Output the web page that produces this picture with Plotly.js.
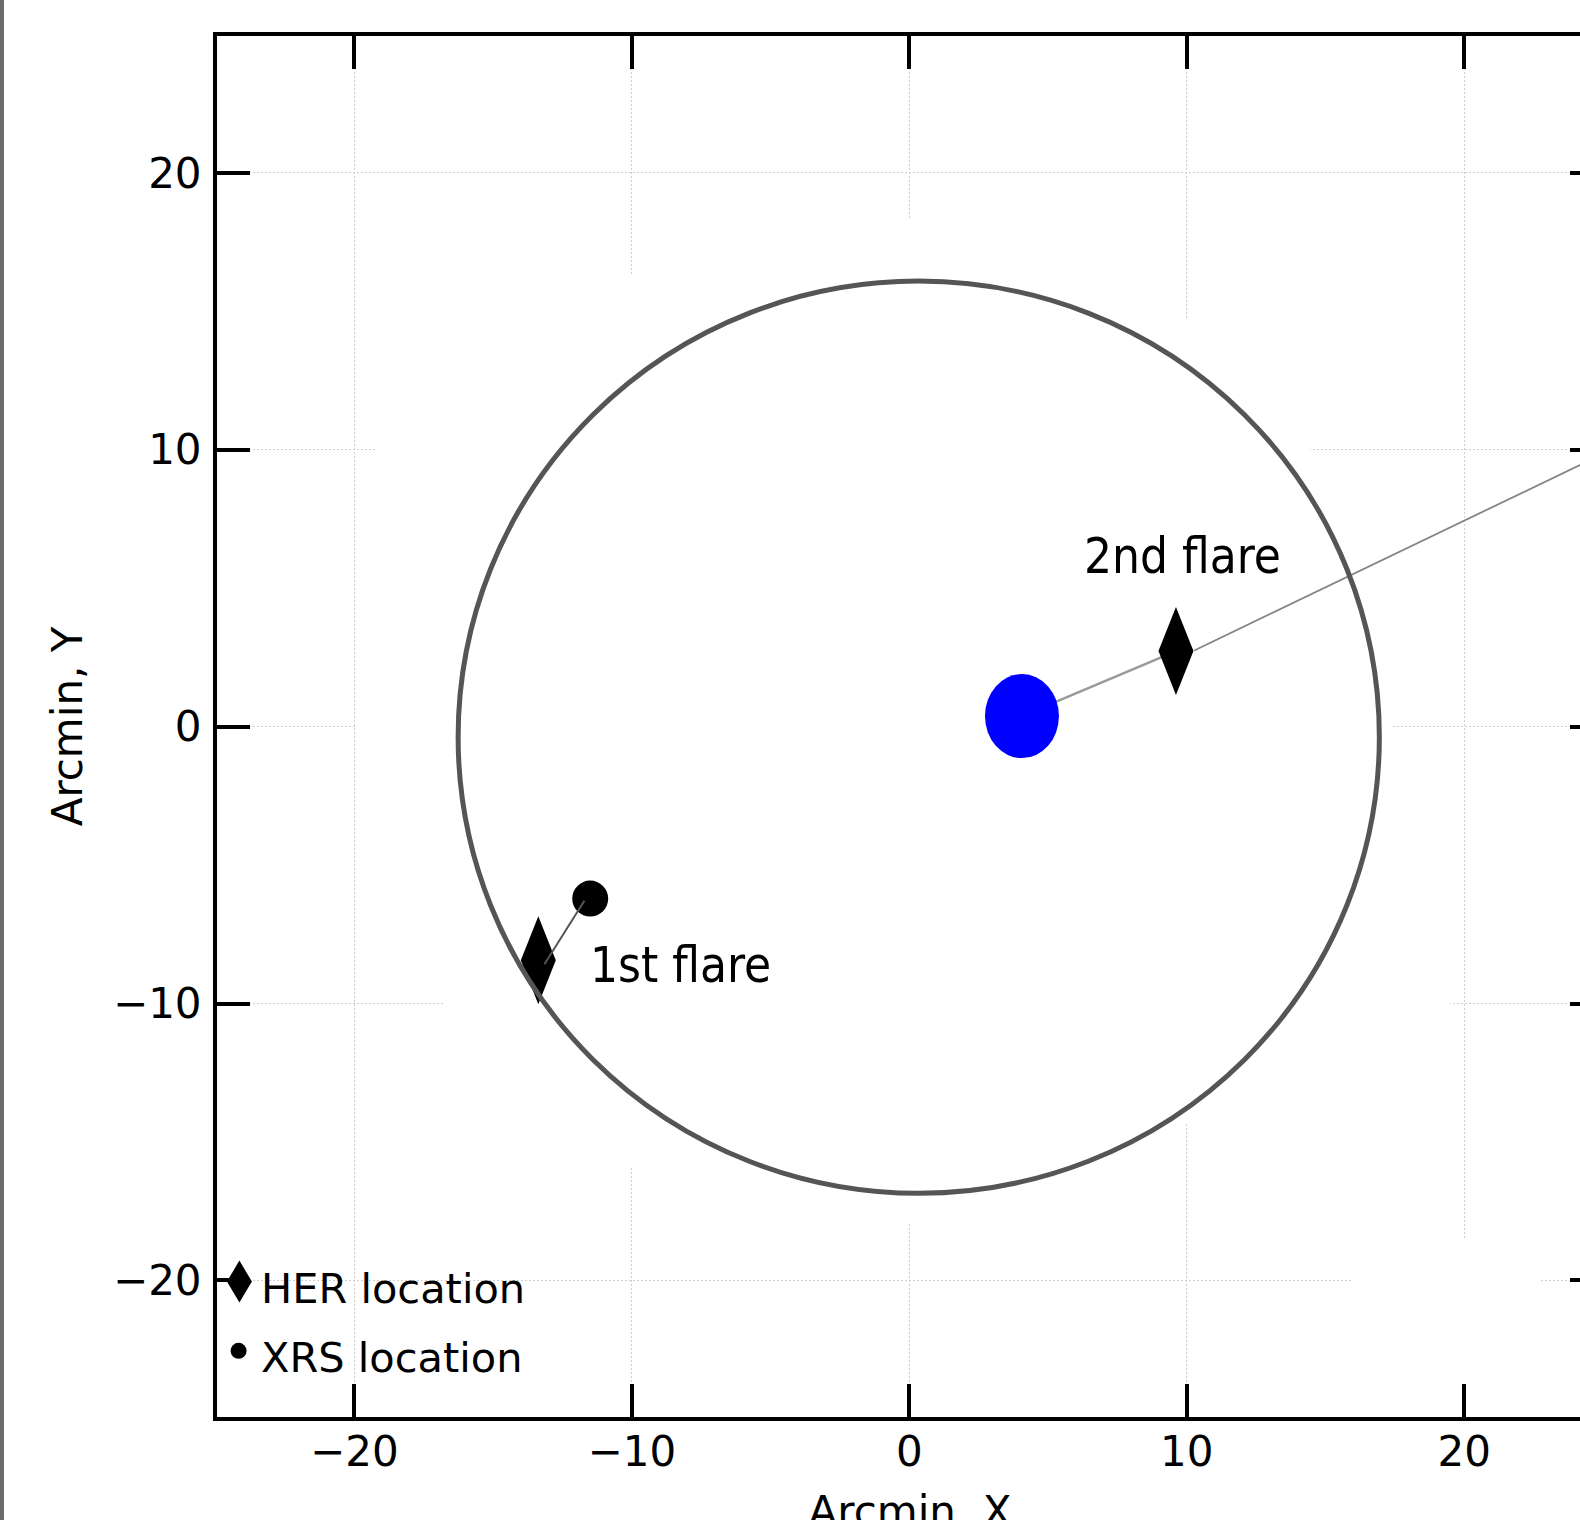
<!DOCTYPE html>
<html><head><meta charset="utf-8">
<script src="https://cdn.plot.ly/plotly-3.0.1.min.js"></script>
<style>html,body{margin:0;padding:0;overflow:hidden;background:#fff}#chart{width:1620px;height:1560px}</style>
</head><body><div id="chart"></div>
<script>
// ---------------- data ----------------
const xTickVals = [-20, -10, 0, 10, 20];
const yTickVals = [-20, -10, 0, 10, 20];
const herNames = ['1st flare', '2nd flare'];
const herX = [-13.37, 9.61];          // HER location (arcmin)
const herY = [-8.44, 2.73];
const xrsX = [-11.50];                 // XRS location (arcmin)
const xrsY = [-6.21];
const centroidX = [4.06];              // blue source
const centroidY = [0.38];
const sunCenterX = [0.34];
const sunCenterY = [-0.38];
const sunRadiusX = [16.6];
const sunRadiusY = [16.47];
const link1X = [-13.15, -11.71];       // HER -> XRS, 1st flare
const link1Y = [-8.58, -6.29];
const link2X = [4.06, 9.61];           // source -> HER, 2nd flare
const link2Y = [0.38, 2.73];
const rayX = [10.27, 26.0];            // ray beyond HER, 2nd flare
const rayY = [2.75, 10.33];
const flareLabelX = [-8.23, 9.83];
const flareLabelY = [-8.63, 6.14];
const legendNames = ['HER location', 'XRS location'];

// ---------------- geometry / style ----------------
const W = 1620, H = 1560, ML = 217, MR = 17, MT = 36, MB = 143;
const PW = W - ML - MR, PH = H - MT - MB;
const xRange = [-24.95, 25], yRange = [-24.93, 24.94];
const pxPerX = PW / (xRange[1] - xRange[0]);
const pxPerY = PH / (yRange[1] - yRange[0]);
const px2paperX = p => (p - ML) / PW;
const px2paperY = p => (H - MB - p) / PH;
const FONT = 'DejaVu Sans';
const LABEL_FONT = 'DejaVu Sans Condensed, ' + FONT;

// diamond polygons for HER points (35 x 88 px)
const hw = 17.5 / pxPerX, hh = 44 / pxPerY;
const dX = [], dY = [];
herX.forEach((x, i) => {
  const y = herY[i];
  dX.push(x - hw, x, x + hw, x, x - hw, null);
  dY.push(y, y + hh, y, y - hh, y, null);
});

const traces = [
  {x: link2X, y: link2Y, mode: 'lines', line: {color: '#999999', width: 2.5}, hoverinfo: 'skip', showlegend: false},
  {x: rayX, y: rayY, mode: 'lines', line: {color: '#858585', width: 1.8}, hoverinfo: 'skip', showlegend: false},
  {x: dX, y: dY, mode: 'lines', fill: 'toself', fillcolor: '#000', line: {color: '#000', width: 0}, name: legendNames[0], showlegend: false},
  {x: xrsX, y: xrsY, mode: 'markers', marker: {symbol: 'circle', size: 36, color: '#000'}, name: legendNames[1], showlegend: false},
  {x: link1X, y: link1Y, mode: 'lines', line: {color: '#555', width: 2}, hoverinfo: 'skip', showlegend: false}
];

const shapes = [
  // white patches of the pasted image (hide grid)
  {type: 'path', layer: 'between', xref: 'x', yref: 'y', fillcolor: '#fff', line: {width: 0},
   path: 'M-19.22,10 L-10,16.28 L0,18.36 L9.98,14.76 L14.45,10 L17.44,0 L19.5,-10 L9.98,-14.36 L0,-17.97 L-10,-15.87 L-16.77,-10 L-19.9,0 Z'},
  {type: 'rect', layer: 'between', xref: 'x', yref: 'y', x0: 16.0, x1: 22.77, y0: -25.5, y1: -18.47, fillcolor: '#fff', line: {width: 0}},
  // sun disk outline
  {type: 'circle', layer: 'above', xref: 'x', yref: 'y',
   x0: sunCenterX[0] - sunRadiusX[0], x1: sunCenterX[0] + sunRadiusX[0],
   y0: sunCenterY[0] - sunRadiusY[0], y1: sunCenterY[0] + sunRadiusY[0],
   line: {color: '#555555', width: 5}, fillcolor: 'rgba(0,0,0,0)'},
  // blue source
  {type: 'circle', layer: 'above', xref: 'x', yref: 'y', xsizemode: 'pixel', ysizemode: 'pixel',
   xanchor: centroidX[0], yanchor: centroidY[0], x0: -37, x1: 37, y0: -42, y1: 42,
   fillcolor: '#0000ff', line: {width: 0}},
  // legend handles
  {type: 'path', layer: 'above', xref: 'paper', yref: 'paper', xsizemode: 'pixel', ysizemode: 'pixel',
   xanchor: px2paperX(239.4), yanchor: px2paperY(1281.6), path: 'M0,21 L12.5,0 L0,-21 L-12.5,0 Z',
   fillcolor: '#000', line: {width: 0}},
  {type: 'circle', layer: 'above', xref: 'paper', yref: 'paper', xsizemode: 'pixel', ysizemode: 'pixel',
   xanchor: px2paperX(238.6), yanchor: px2paperY(1350.8), x0: -8, x1: 8, y0: -8, y1: 8,
   fillcolor: '#000', line: {width: 0}},
  // left page border
  {type: 'rect', layer: 'above', xref: 'paper', yref: 'paper', x0: px2paperX(0), x1: px2paperX(4),
   y0: px2paperY(H), y1: px2paperY(0), fillcolor: '#6b6b6b', line: {width: 0}}
];

const annotations = [
  {x: flareLabelX[0], y: flareLabelY[0], xref: 'x', yref: 'y', text: herNames[0], showarrow: false,
   xanchor: 'center', yanchor: 'middle', font: {family: LABEL_FONT, size: 49, color: '#000'}},
  {x: flareLabelX[1], y: flareLabelY[1], xref: 'x', yref: 'y', text: herNames[1], showarrow: false,
   xanchor: 'center', yanchor: 'middle', font: {family: LABEL_FONT, size: 49, color: '#000'}},
  {x: px2paperX(259), y: px2paperY(1288.8), xref: 'paper', yref: 'paper', text: legendNames[0], showarrow: false,
   xanchor: 'left', yanchor: 'middle', font: {family: FONT, size: 41.5, color: '#000'}},
  {x: px2paperX(259), y: px2paperY(1357.8), xref: 'paper', yref: 'paper', text: legendNames[1], showarrow: false,
   xanchor: 'left', yanchor: 'middle', font: {family: FONT, size: 41.5, color: '#000'}}
];

const axisCommon = {
  ticks: 'inside', ticklen: 33, tickwidth: 4, tickcolor: '#000',
  showline: true, linewidth: 4, linecolor: '#000', mirror: 'ticks',
  showgrid: true, gridcolor: '#cfcfcf', gridwidth: 1, griddash: '2px,2px',
  zeroline: false, fixedrange: true,
  tickfont: {family: FONT, size: 42, color: '#000'}
};

const layout = {
  width: W, height: H,
  margin: {l: ML, r: MR, t: MT, b: MB, pad: 0},
  paper_bgcolor: '#fff', plot_bgcolor: '#fff',
  showlegend: false,
  xaxis: Object.assign({}, axisCommon, {range: xRange, tickmode: 'array', tickvals: xTickVals,
    ticklabelstandoff: -5,
    title: {text: 'Arcmin, X', font: {family: FONT, size: 42, color: '#000'}, standoff: 22}}),
  yaxis: Object.assign({}, axisCommon, {range: yRange, tickmode: 'array', tickvals: yTickVals,
    ticklabelstandoff: 3,
    title: {text: 'Arcmin, Y', font: {family: FONT, size: 42, color: '#000'}, standoff: 18}}),
  shapes: shapes,
  annotations: annotations
};

Plotly.newPlot('chart', traces, layout, {displayModeBar: false, staticPlot: true});
</script>
</body></html>
